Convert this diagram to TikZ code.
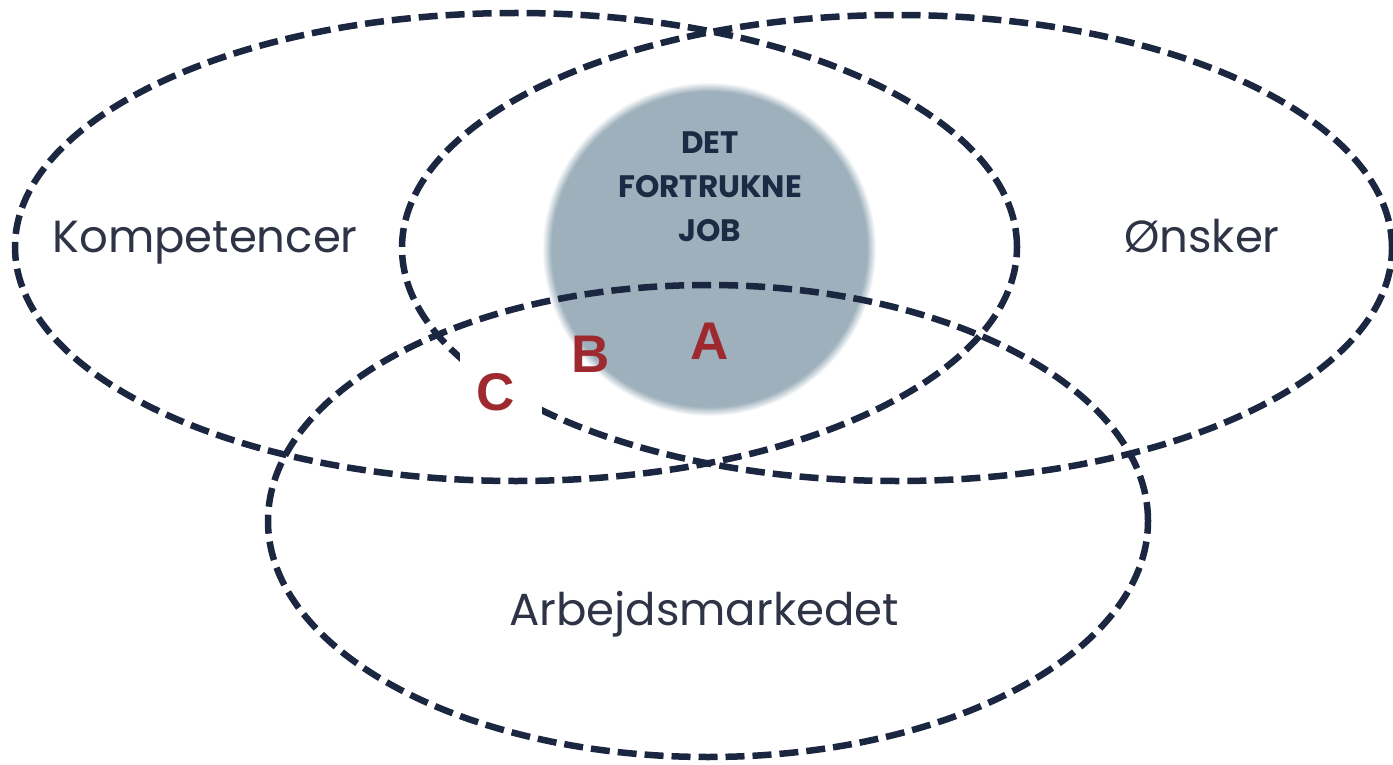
\documentclass[tikz,border=0pt]{standalone}
\usepackage{fontspec}
\setmainfont{Poppins}
\newfontfamily\letterfont{Liberation Sans}
\usetikzlibrary{shapes}

\definecolor{linenavy}{HTML}{1B2640}
\definecolor{labelgrey}{HTML}{2E3446}
\definecolor{jobblue}{HTML}{9DB0BC}
\definecolor{jobtext}{HTML}{1C2A44}
\definecolor{letterred}{HTML}{9E2A2F}
\pgfdeclareradialshading{jobglow}{\pgfpoint{0bp}{0bp}}{%
  color(0bp)=(jobblue); color(23.6bp)=(jobblue); color(25bp)=(white); color(50bp)=(white)}

\begin{document}
\begin{tikzpicture}[x=1pt,y=-1pt,
  ring/.style={ellipse, draw=linenavy, line width=6.5pt, dash pattern=on 19pt off 8pt, inner sep=0pt},
  setname/.style={text=labelgrey, font=\fontsize{45}{54}\selectfont},
  letter/.style={text=letterred, font=\letterfont\bfseries\fontsize{53}{60}\selectfont}]

\useasboundingbox (0,0) rectangle (1393,765);

\node[circle, minimum size=334pt, inner sep=0pt, shade, shading=jobglow] (job) at (709,249) {};
\node[text=jobtext, font=\bfseries\fontsize{31}{44}\selectfont, align=center] (jobtext) at (710,187)
  {DET\\FORTRUKNE\\JOB};

\node[ring, minimum width=1002pt, minimum height=468pt] (komp) at (516,247) {};
\node[ring, minimum width=990pt, minimum height=466pt] (onsk) at (897,248) {};
\node[ring, minimum width=880pt, minimum height=472pt] (arb) at (708,521) {};

\node[setname, anchor=base] (kompname) at (205,252) {Kompetencer};
\node[setname, anchor=base] (onskname) at (1202,252) {Ønsker};
\node[setname, anchor=base] (arbname) at (704,625) {Arbejdsmarkedet};

\node[fill=white, minimum width=82pt, minimum height=91pt] (cbox) at (501,392) {};
\node[letter] (a) at (710,341) {A};
\node[letter] (b) at (591,354) {B};
\node[letter] (c) at (496,392) {C};

\end{tikzpicture}
\end{document}
